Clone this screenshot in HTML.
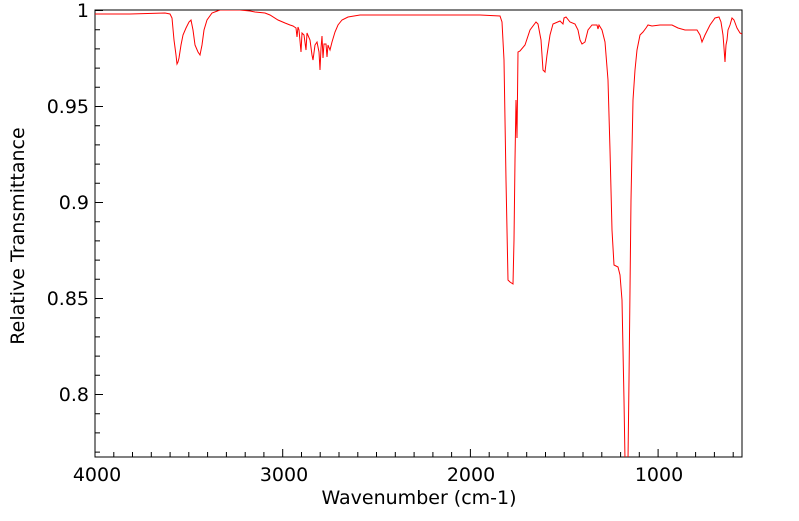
<!DOCTYPE html>
<html><head><style>body{margin:0;background:#fff}</style></head><body>
<svg width="799" height="516" xmlns="http://www.w3.org/2000/svg" font-family="'DejaVu Sans','Liberation Sans',sans-serif">
<rect width="799" height="516" fill="#fff"/>
<g stroke="#000" stroke-width="1">
<path d="M95,10 V457 H742 V10 Z" fill="none"/>
<path d="M95,10.5h8M95,29.7h5M95,48.9h5M95,68.1h5M95,87.3h5M95,106.5h8M95,125.7h5M95,144.9h5M95,164.1h5M95,183.3h5M95,202.5h8M95,221.7h5M95,240.9h5M95,260.1h5M95,279.3h5M95,298.5h8M95,317.7h5M95,336.9h5M95,356.1h5M95,375.3h5M95,394.5h8M95,413.7h5M95,432.9h5M95,452.1h5"/>
<path d="M95,457v-8M113.8,457v-5M132.5,457v-5M151.3,457v-5M170.1,457v-5M188.8,457v-5M207.6,457v-5M226.4,457v-5M245.2,457v-5M263.9,457v-5M282.7,457v-8M301.5,457v-5M320.2,457v-5M339,457v-5M357.8,457v-5M376.5,457v-5M395.3,457v-5M414.1,457v-5M432.9,457v-5M451.6,457v-5M470.4,457v-8M489.2,457v-5M507.9,457v-5M526.7,457v-5M545.5,457v-5M564.2,457v-5M583,457v-5M601.8,457v-5M620.6,457v-5M639.3,457v-5M658.1,457v-8M676.9,457v-5M695.6,457v-5M714.4,457v-5M733.2,457v-5"/>
</g>
<g font-size="19" fill="#000">
<text x="89" y="17" text-anchor="end">1</text>
<text x="89" y="113" text-anchor="end">0.95</text>
<text x="89" y="209" text-anchor="end">0.9</text>
<text x="89" y="305" text-anchor="end">0.85</text>
<text x="89" y="401" text-anchor="end">0.8</text>
<text x="97" y="481" text-anchor="middle">4000</text>
<text x="284" y="481" text-anchor="middle">3000</text>
<text x="471" y="481" text-anchor="middle">2000</text>
<text x="659" y="481" text-anchor="middle">1000</text>
<text x="419" y="504" text-anchor="middle">Wavenumber (cm-1)</text>
<text transform="translate(24,236) rotate(-90)" text-anchor="middle">Relative Transmittance</text>
</g>
<svg x="95" y="10" width="647" height="447" viewBox="95 10 647 447" overflow="hidden">
<polyline fill="none" stroke="#f00" stroke-width="1" points="95,14 130,14 165,13 170,14 172,18 174,40 176,55 177,64 178,62 179,58 181,45 183,35 186,28 189,22 191,20 193,30 195,45 198,52 200,55 202,45 204,30 207,20 212,13 220,10 240,10 250,11 255,12 265,13 270,15 278,20 285,23 290,25 293,26 296,28 297,37 298,27 299,30 301,52 302,33 304,35 306,50 307,33 310,40 312,55 313,60 315,45 317,42 319,52 320,70 321,48 322,36 323,58 324,44 326,44 327,57 328,45 330,50 332,42 335,32 338,25 342,20 348,17 360,15 400,15 460,15 480,15 500,16 502,22 504,60 506,180 508,280 510,282 513,284 514,240 515,160 516,100 517,138 518,52 520,51 525,45 530,30 536,22 538,24 541,40 542,55 543,70 545,72 547,55 550,35 553,24 560,21 563,24 564,18 566,17 570,22 575,24 578,30 580,40 582,44 585,42 588,30 592,25 597,25 598,29 599,25 602,30 605,42 608,80 610,150 612,230 614,265 618,267 620,275 622,300 624,400 625,460 628,460 629,380 631,200 633,100 635,70 637,50 640,35 643,32 646,28 648,25 652,26 660,25 672,25 678,28 685,30 690,30 697,30 700,35 702,42 705,35 710,25 715,18 719,17 721,22 723,35 724,48 725,62 726,45 727,40 728,30 730,25 732,18 734,20 737,28 740,33 742,34"/>
</svg>
</svg>
</body></html>
